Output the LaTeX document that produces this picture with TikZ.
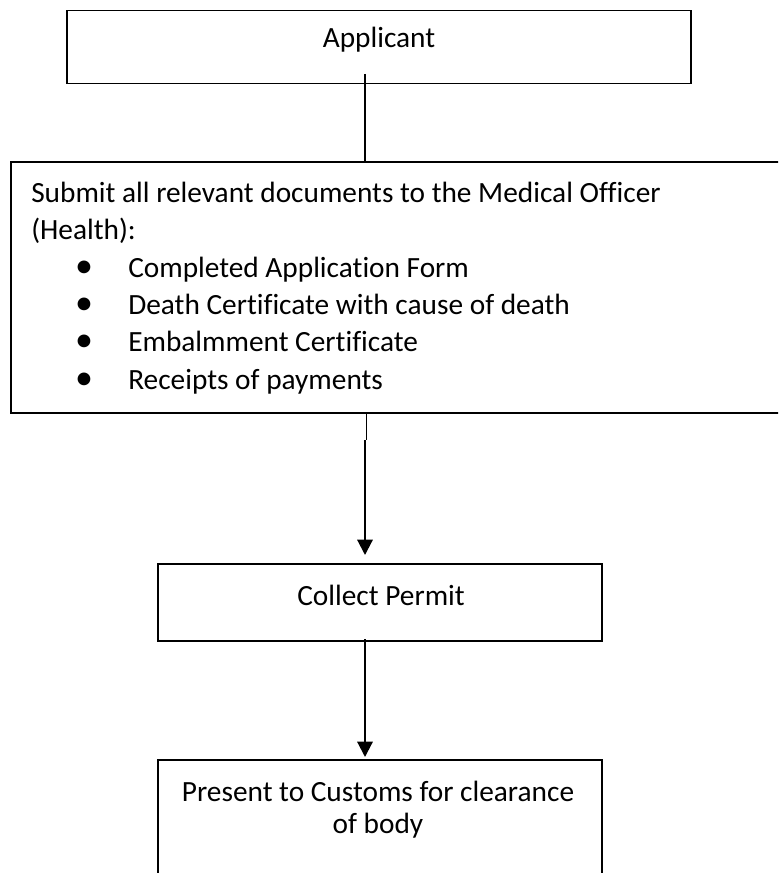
\documentclass[tikz,border=0pt]{standalone}
\usepackage{fontspec}
\setmainfont{Carlito}[Ligatures=NoCommon]
\usetikzlibrary{arrows.meta,calc}
\newcommand{\fs}{\fontsize{22}{28}\selectfont}
\newcommand{\fb}{\fontsize{27}{27}\selectfont}
\begin{document}
\begin{tikzpicture}[x=0.75pt,y=-0.75pt,
  box/.style={draw=black, line width=1.1pt, rectangle, inner sep=0pt, outer sep=0pt},
  lab/.style={font=\fs, inner sep=0pt, text=black},
  bul/.style={font=\fb, inner sep=0pt, text=black, anchor=base},
  conn/.style={draw=black, line width=1.6pt},
  thinconn/.style={draw=black, line width=0.8pt},
  tip/.style={-{Triangle[width=11.5pt,length=11.5pt]}}]
\useasboundingbox (0,0) rectangle (778,873);
\clip (0,0) rectangle (778,873);
% boxes
\node[box, minimum width=468pt, minimum height=54.75pt] (b1) at (379,47) {};
\node[box, minimum width=591.75pt, minimum height=188.25pt] (b2) at (405.5,287.5) {};
\node[box, minimum width=333pt, minimum height=57.75pt] (b3) at (380,602.5) {};
\node[box, minimum width=333pt, minimum height=105pt] (b4) at (380,830) {};
% texts
\node[lab] (t1) at (379,40) {Applicant};
\node[lab, anchor=base west] (t2a) at (31,203) {Submit all relevant documents to the Medical Officer};
\node[lab, anchor=base west] (t2b) at (31,240) {(Health):};
\node[bul] (u1) at (84,277) {\textbullet};
\node[lab, anchor=base west] (t2c) at (128,277) {Completed Application Form};
\node[bul] (u2) at (84,314) {\textbullet};
\node[lab, anchor=base west] (t2d) at (128,314) {Death Certificate with cause of death};
\node[bul] (u3) at (84,351) {\textbullet};
\node[lab, anchor=base west] (t2e) at (128,351) {Embalmment Certificate};
\node[bul] (u4) at (84,389) {\textbullet};
\node[lab, anchor=base west] (t2f) at (128,389) {Receipts of payments};
\node[lab] (t3) at (381,595) {Collect Permit};
\node[lab] (t4a) at (378,791) {Present to Customs for clearance};
\node[lab] (t4b) at (378,826) {of body};
% connectors
\coordinate (c1s) at (365,74);
\draw[conn] (c1s) -- (c1s |- b2.north);
\coordinate (c2m) at (366.5,440);
\draw[thinconn] (c2m |- b2.south) -- (c2m);
\coordinate (c2k) at (365,440);
\draw[conn, tip] (c2k) -- ($(c2k |- b3.north)+(0,-9)$);
\coordinate (c3s) at (365,639);
\draw[conn, tip] (c3s) -- ($(c3s |- b4.north)+(0,-3)$);
\end{tikzpicture}
\end{document}
